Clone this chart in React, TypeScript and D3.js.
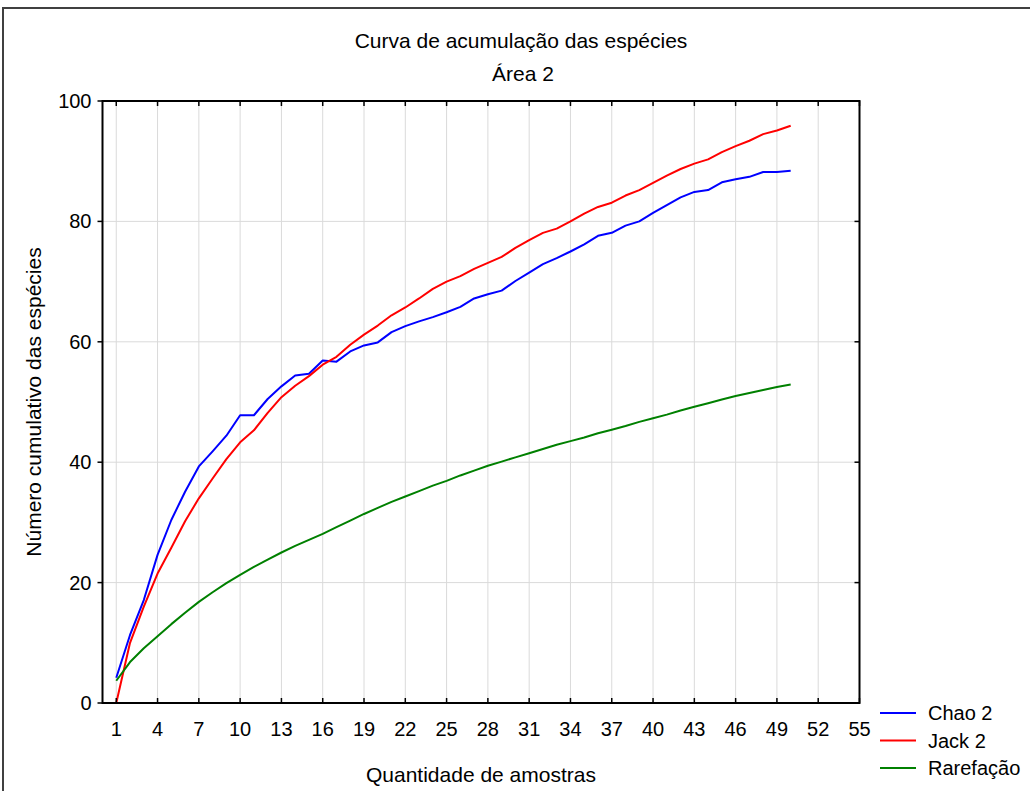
import React, { useRef, useEffect } from 'react';
import * as d3 from 'd3';

// amostras 1..50
const samples = d3.range(1, 51);

const chao2 = [
  4.2, 11.3, 17.1, 24.6, 30.4, 35.1, 39.3, 41.8, 44.4, 47.8,
  47.8, 50.5, 52.6, 54.4, 54.7, 56.9, 56.7, 58.4, 59.4, 59.9,
  61.6, 62.6, 63.4, 64.1, 64.9, 65.8, 67.2, 67.9, 68.5, 70.1,
  71.5, 72.9, 73.9, 75.0, 76.2, 77.6, 78.1, 79.3, 80.0, 81.4,
  82.7, 84.0, 84.9, 85.2, 86.5, 87.0, 87.4, 88.2, 88.2, 88.4,
];

const jack2 = [
  0, 10.0, 16.0, 21.5, 25.8, 30.2, 34.0, 37.3, 40.5, 43.3,
  45.3, 48.2, 50.8, 52.7, 54.3, 56.2, 57.5, 59.5, 61.2, 62.7,
  64.4, 65.7, 67.2, 68.8, 70.0, 70.9, 72.1, 73.1, 74.1, 75.6,
  76.9, 78.1, 78.8, 80.0, 81.3, 82.4, 83.1, 84.3, 85.2, 86.4,
  87.6, 88.7, 89.6, 90.3, 91.5, 92.5, 93.4, 94.5, 95.1, 95.9,
];

const rarefacao = [
  3.7, 6.8, 9.1, 11.1, 13.1, 15.0, 16.8, 18.4, 19.9, 21.3,
  22.6, 23.8, 25.0, 26.1, 27.1, 28.1, 29.2, 30.3, 31.4, 32.4,
  33.4, 34.3, 35.2, 36.1, 36.9, 37.8, 38.6, 39.4, 40.1, 40.8,
  41.5, 42.2, 42.9, 43.5, 44.1, 44.8, 45.4, 46.0, 46.7, 47.3,
  47.9, 48.6, 49.2, 49.8, 50.4, 51.0, 51.5, 52.0, 52.5, 52.9,
];

const xTicks = d3.range(1, 56, 3);
const yTicks = [0, 20, 40, 60, 80, 100];

const series = [
  { name: 'Chao 2', values: chao2, color: '#0000ff' },
  { name: 'Jack 2', values: jack2, color: '#ff0000' },
  { name: 'Rarefação', values: rarefacao, color: '#008000' },
];

const App = () => {
  const svgRef = useRef<SVGSVGElement>(null);

  useEffect(() => {
    const width = 1030;
    const height = 791;
    const margin = { left: 102.5, right: 170.5, top: 101, bottom: 88 };
    const font = 'Arial, "Liberation Sans", sans-serif';

    const svg = d3.select(svgRef.current)
      .attr('width', width)
      .attr('height', height);
    svg.selectAll('*').remove();

    const x = d3.scaleLinear().domain([0, 55]).range([margin.left, width - margin.right]);
    const y = d3.scaleLinear().domain([0, 100]).range([height - margin.bottom, margin.top]);
    const [x0, x1] = x.range();
    const [y0, y1] = y.range();

    // outer frame
    svg.append('rect')
      .attr('x', 3).attr('y', 8)
      .attr('width', 1100).attr('height', 1000)
      .attr('fill', 'white')
      .attr('stroke', '#404040')
      .attr('stroke-width', 2);

    // grid
    svg.append('g')
      .selectAll('line')
      .data(xTicks.filter(t => t < 55))
      .enter()
      .append('line')
      .attr('x1', d => x(d)).attr('x2', d => x(d))
      .attr('y1', y1).attr('y2', y0)
      .attr('stroke', '#dadada')
      .attr('stroke-width', 1);

    svg.append('g')
      .selectAll('line')
      .data(yTicks.filter(t => t > 0 && t < 100))
      .enter()
      .append('line')
      .attr('x1', x0).attr('x2', x1)
      .attr('y1', d => y(d)).attr('y2', d => y(d))
      .attr('stroke', '#dadada')
      .attr('stroke-width', 1);

    // series
    const line = d3.line<number>()
      .x((d, i) => x(samples[i]))
      .y(d => y(d));

    series.forEach(s => {
      svg.append('path')
        .datum(s.values)
        .attr('d', line)
        .attr('fill', 'none')
        .attr('stroke', s.color)
        .attr('stroke-width', 2)
        .attr('stroke-linejoin', 'round');
    });

    // plot frame
    svg.append('rect')
      .attr('x', x0).attr('y', y1)
      .attr('width', x1 - x0).attr('height', y0 - y1)
      .attr('fill', 'none')
      .attr('stroke', 'black')
      .attr('stroke-width', 2);

    const tickLen = 5;
    const ticks = svg.append('g').attr('stroke', 'black').attr('stroke-width', 1.5);
    xTicks.forEach(t => {
      ticks.append('line').attr('x1', x(t)).attr('x2', x(t)).attr('y1', y0).attr('y2', y0 - tickLen);
      ticks.append('line').attr('x1', x(t)).attr('x2', x(t)).attr('y1', y1).attr('y2', y1 + tickLen);
    });
    yTicks.forEach(t => {
      ticks.append('line').attr('x1', x0).attr('x2', x0 - tickLen).attr('y1', y(t)).attr('y2', y(t));
      ticks.append('line').attr('x1', x1).attr('x2', x1 - tickLen).attr('y1', y(t)).attr('y2', y(t));
    });

    // tick labels
    svg.append('g')
      .selectAll('text')
      .data(xTicks)
      .enter()
      .append('text')
      .attr('x', d => x(d))
      .attr('y', y0 + 26)
      .attr('dy', '0.35em')
      .attr('text-anchor', 'middle')
      .style('font-family', font)
      .style('font-size', '20px')
      .text(d => d);

    svg.append('g')
      .selectAll('text')
      .data(yTicks)
      .enter()
      .append('text')
      .attr('x', x0 - 11)
      .attr('y', d => y(d))
      .attr('dy', '0.35em')
      .attr('text-anchor', 'end')
      .style('font-family', font)
      .style('font-size', '20px')
      .text(d => d);

    // titles
    svg.append('text')
      .attr('x', 521).attr('y', 48)
      .attr('text-anchor', 'middle')
      .style('font-family', font).style('font-size', '21px')
      .text('Curva de acumulação das espécies');
    svg.append('text')
      .attr('x', 523).attr('y', 81)
      .attr('text-anchor', 'middle')
      .style('font-family', font).style('font-size', '21px')
      .text('Área 2');

    svg.append('text')
      .attr('x', (x0 + x1) / 2).attr('y', 782)
      .attr('text-anchor', 'middle')
      .style('font-family', font).style('font-size', '21px')
      .text('Quantidade de amostras');

    svg.append('text')
      .attr('transform', `translate(41,${(y0 + y1) / 2}) rotate(-90)`)
      .attr('text-anchor', 'middle')
      .style('font-family', font).style('font-size', '21px')
      .text('Número cumulativo das espécies');

    // legend
    const legend = svg.selectAll('.legend')
      .data(series)
      .enter()
      .append('g')
      .attr('class', 'legend')
      .attr('transform', (d, i) => `translate(880,${713 + i * 27.5})`);

    legend.append('line')
      .attr('x1', 0).attr('x2', 36)
      .attr('stroke', d => d.color)
      .attr('stroke-width', 2);

    legend.append('text')
      .attr('x', 48)
      .attr('dy', '0.35em')
      .style('font-family', font)
      .style('font-size', '20px')
      .text(d => d.name);
  }, []);

  return (
    <div style={{ position: 'absolute', left: 0, top: 0 }}>
      <svg ref={svgRef}></svg>
    </div>
  );
};

export default App;
